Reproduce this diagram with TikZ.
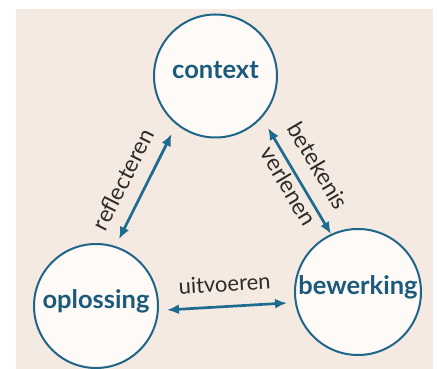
\documentclass[tikz,border=0pt]{standalone}
\usepackage{fontspec}
\setmainfont{Lato}
\usetikzlibrary{arrows.meta,calc}
\definecolor{bg}{HTML}{F4EAE1}
\definecolor{circfill}{HTML}{FDFAF7}
\definecolor{ring}{HTML}{1F6587}
\definecolor{arrowc}{HTML}{1E6B91}
\definecolor{nodetext}{HTML}{1B5A7A}
\definecolor{labeltext}{HTML}{2F2B29}
\begin{document}
\begin{tikzpicture}[x=1pt,y=1pt,
  state/.style={circle, draw=ring, line width=2pt, fill=circfill, inner sep=0pt,
    text=nodetext, font=\fontsize{25.5}{30}\selectfont\bfseries, text height=1ex, text depth=0pt},
  link/.style={arrowc, line width=2.7pt, {Latex[length=12pt,width=10pt]}-{Latex[length=12pt,width=10pt]}},
  lbl/.style={text=labeltext, font=\fontsize{23}{28}\selectfont, inner sep=0pt, sloped}
]
\useasboundingbox (0,0) rectangle (439,369);
\fill[white] (0,0) rectangle (439,369);
\fill[bg] (16,0) rectangle (433,360);

\node[state, minimum size=123pt] (c) at (215.5,293) {context};
\node[state, minimum size=124pt] (o) at (96,63) {oplossing};
\node[state, minimum size=126pt] (b) at (358,77) {bewerking};

\draw[link] ([shift={(71:70.8)}]o.center) --
  node[lbl, pos=0.47, above=13.5pt] {reflecteren}
  ([shift={(232.9:72.7)}]c.center);
\draw[link] ([shift={(-44.7:73.9)}]c.center) --
  node[lbl, pos=0.47, above=14pt] {betekenis}
  node[lbl, pos=0.49, below=2pt] {verlenen}
  ([shift={(115:64)}]b.center);
\draw[link] ([shift={(-3.2:71.1)}]o.center) --
  node[lbl, pos=0.49, above=13.5pt, font=\fontsize{22}{26}\selectfont] {uitvoeren}
  ([shift={(188.8:71.8)}]b.center);
\end{tikzpicture}
\end{document}
